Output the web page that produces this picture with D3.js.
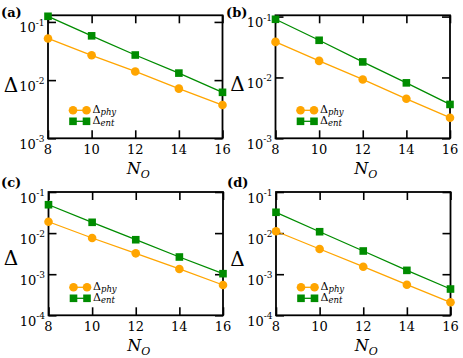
<!DOCTYPE html>
<html>
<head>
<meta charset="utf-8">
<script src="https://cdn.jsdelivr.net/npm/d3@7"></script>
<style>
  body { margin: 0; background: #fff; }
</style>
</head>
<body>
<div id="chart"></div>
<script>
// system sizes N_O on the x axis
const nO = [8, 10, 12, 14, 16];

// Delta_phy (orange circles) and Delta_ent (green squares) for each panel
const phyA = [0.052, 0.0267, 0.0141, 0.00714, 0.00373];
const entA = [0.125, 0.0577, 0.027, 0.0132, 0.00617];
const phyB = [0.0384, 0.0187, 0.00927, 0.00446, 0.00218];
const entB = [0.0904, 0.0408, 0.018, 0.00815, 0.0036];
const phyC = [0.0189, 0.0076, 0.00322, 0.00134, 0.000546];
const entC = [0.049, 0.0183, 0.0069, 0.00262, 0.00103];
const phyD = [0.0111, 0.0041, 0.00152, 0.000556, 0.000207];
const entD = [0.0321, 0.0108, 0.00367, 0.00124, 0.000436];

const xTicks = [8, 10, 12, 14, 16];
const yTicksTop = [1e-3, 1e-2, 1e-1];
const yTicksBottom = [1e-4, 1e-3, 1e-2, 1e-1];

const panels = [
  { label: '(a)', phy: phyA, ent: entA, yDomain: [1e-3, 0.13], yTicks: yTicksTop,
    left: 48, top: 15.3, bottom: 138.3, labelX: 1, labelY: 17, deltaX: 11, deltaDy: 15.5 },
  { label: '(b)', phy: phyB, ent: entB, yDomain: [1e-3, 0.105], yTicks: yTicksTop,
    left: 275.5, top: 15.3, bottom: 138.3, labelX: 226, labelY: 17, deltaX: 237.5, deltaDy: 14.5 },
  { label: '(c)', phy: phyC, ent: entC, yDomain: [1e-4, 1e-1], yTicks: yTicksBottom,
    left: 48.5, top: 192, bottom: 315.3, labelX: 1, labelY: 187, deltaX: 11, deltaDy: 11.5 },
  { label: '(d)', phy: phyD, ent: entD, yDomain: [1e-4, 1e-1], yTicks: yTicksBottom,
    left: 276, top: 192, bottom: 315.3, labelX: 227, labelY: 187, deltaX: 237.5, deltaDy: 12.5 }
];

const width = 463, height = 358;
const plotW = 174.5;
const orange = '#ffa500', green = '#008c00';
const tickLen = 8;
const serif = 'DejaVu Serif, Liberation Serif, Times New Roman, Times, serif';

const svg = d3.select('#chart').append('svg')
  .attr('width', width)
  .attr('height', height)
  .style('font-family', serif);

panels.forEach(p => {
  const x = d3.scaleLinear().domain([8, 16]).range([p.left, p.left + plotW]);
  const y = d3.scaleLog().domain(p.yDomain).range([p.bottom, p.top]);

  const g = svg.append('g');

  // inward ticks on all four sides
  const axes = [
    { ax: d3.axisBottom(x).tickValues(xTicks), tr: `translate(0,${p.bottom})` },
    { ax: d3.axisTop(x).tickValues(xTicks), tr: `translate(0,${p.top})` },
    { ax: d3.axisLeft(y).tickValues(p.yTicks), tr: `translate(${p.left},0)` },
    { ax: d3.axisRight(y).tickValues(p.yTicks), tr: `translate(${p.left + plotW},0)` }
  ];
  axes.forEach(a => {
    const ag = g.append('g')
      .attr('transform', a.tr)
      .call(a.ax.tickSize(-tickLen).tickFormat(''));
    ag.select('.domain').remove();
    ag.selectAll('line').attr('stroke', '#000').attr('stroke-width', 1.6);
  });

  // frame
  g.append('rect')
    .attr('x', p.left).attr('y', p.top)
    .attr('width', plotW).attr('height', p.bottom - p.top)
    .attr('fill', 'none').attr('stroke', '#000').attr('stroke-width', 1.8);

  // x tick labels
  g.selectAll('.xl').data(xTicks).enter().append('text')
    .attr('x', d => x(d))
    .attr('y', p.bottom + 16)
    .attr('text-anchor', 'middle')
    .style('font-family', serif)
    .attr('font-size', 13)
    .text(d => d);

  // y tick labels as 10^n
  p.yTicks.forEach(v => {
    const t = g.append('text')
      .attr('x', p.left - 3.5)
      .attr('y', y(v) + 10.5)
      .attr('text-anchor', 'end')
      .style('font-family', serif)
      .attr('font-size', 13);
    t.append('tspan').text('10');
    t.append('tspan')
      .attr('font-size', 9)
      .attr('dy', -6.5)
      .text('-' + Math.round(-Math.log10(v)));
  });

  // axis titles
  const xt = g.append('text')
    .attr('x', (x(8) + x(16)) / 2 + 3)
    .attr('y', p.bottom + 36)
    .attr('text-anchor', 'middle')
    .style('font-family', serif)
    .attr('font-size', 16)
    .attr('font-style', 'italic');
  xt.append('tspan').text('N');
  xt.append('tspan').attr('font-size', 11).attr('dy', 4).text('O');

  g.append('text')
    .attr('x', p.deltaX)
    .attr('y', (p.top + p.bottom) / 2 + p.deltaDy)
    .attr('text-anchor', 'middle')
    .style('font-family', serif)
    .attr('font-size', 20)
    .text('Δ');

  // panel label
  g.append('text')
    .attr('x', p.labelX)
    .attr('y', p.labelY)
    .style('font-family', serif)
    .attr('font-size', 13)
    .attr('font-weight', 'bold')
    .text(p.label);

  // series
  const line = d3.line().x((d, i) => x(nO[i])).y(d => y(d));
  g.append('path').datum(p.phy)
    .attr('d', line).attr('fill', 'none')
    .attr('stroke', orange).attr('stroke-width', 1.3);
  g.append('path').datum(p.ent)
    .attr('d', line).attr('fill', 'none')
    .attr('stroke', green).attr('stroke-width', 1.3);

  g.selectAll('.cp').data(p.phy).enter().append('circle')
    .attr('cx', (d, i) => x(nO[i]))
    .attr('cy', d => y(d))
    .attr('r', 4.3)
    .attr('fill', orange);

  const sq = 7.6;
  g.selectAll('.sq').data(p.ent).enter().append('rect')
    .attr('x', (d, i) => x(nO[i]) - sq / 2)
    .attr('y', d => y(d) - sq / 2)
    .attr('width', sq).attr('height', sq)
    .attr('fill', green);

  // legend
  const lx0 = p.left + 25, lx1 = p.left + 38.5;
  const legend = [
    { name: 'phy', color: orange, shape: 'circle', yy: p.bottom - 28 },
    { name: 'ent', color: green, shape: 'square', yy: p.bottom - 17 }
  ];
  legend.forEach(l => {
    g.append('line')
      .attr('x1', lx0).attr('x2', lx1)
      .attr('y1', l.yy).attr('y2', l.yy)
      .attr('stroke', l.color).attr('stroke-width', 1.3);
    [lx0, lx1].forEach(cx => {
      if (l.shape === 'circle') {
        g.append('circle').attr('cx', cx).attr('cy', l.yy).attr('r', 4.3).attr('fill', l.color);
      } else {
        g.append('rect').attr('x', cx - sq / 2).attr('y', l.yy - sq / 2)
          .attr('width', sq).attr('height', sq).attr('fill', l.color);
      }
    });
    const t = g.append('text')
      .attr('x', p.left + 44.5)
      .attr('y', l.yy + 3)
      .style('font-family', serif)
      .attr('font-size', 11);
    t.append('tspan').text('Δ');
    t.append('tspan')
      .attr('font-size', 8.5)
      .attr('font-style', 'italic')
      .attr('dy', 2)
      .text(l.name);
  });
});
</script>
</body>
</html>
